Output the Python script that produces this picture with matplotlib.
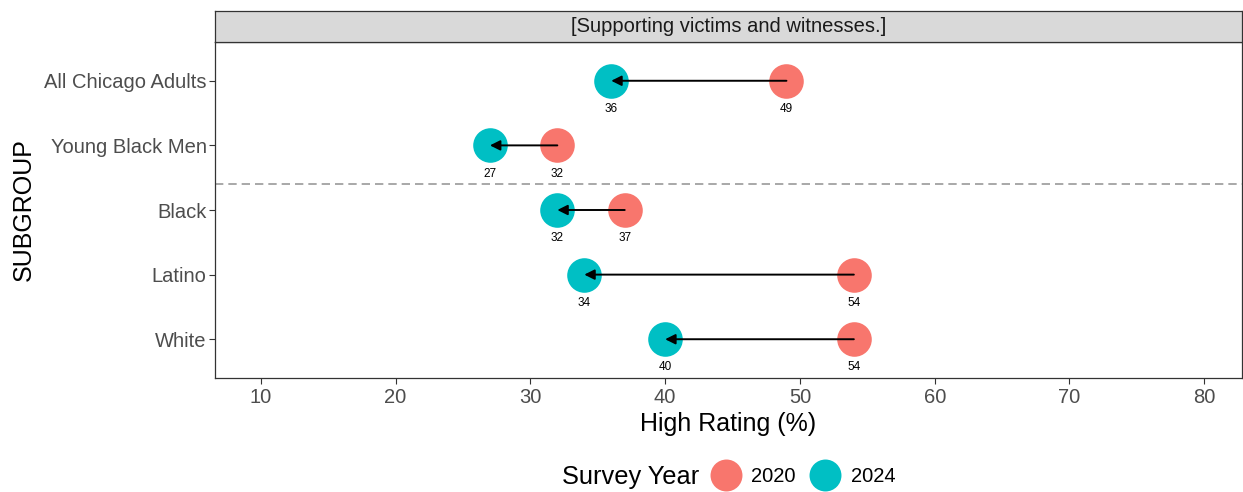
import matplotlib.pyplot as plt
from matplotlib.lines import Line2D

# data
subgroups = ['All Chicago Adults', 'Young Black Men', 'Black', 'Latino', 'White']
rating_2020 = [49, 32, 37, 54, 54]
rating_2024 = [36, 27, 32, 34, 40]
panel_title = '[Supporting victims and witnesses.]'
xticks = [10, 20, 30, 40, 50, 60, 70, 80]

c2020 = '#F8766D'
c2024 = '#00BFC4'

W, H = 1243, 492
fig = plt.figure(figsize=(W / 100, H / 100), dpi=100)
plt.rcParams['font.family'] = ['Liberation Sans', 'DejaVu Sans']

ax = fig.add_axes([215 / W, (H - 378) / H, 1027 / W, 336 / H])
strip = fig.add_axes([215 / W, (H - 42) / H, 1027 / W, 31 / H])

ypos = list(range(len(subgroups), 0, -1))

for y, a, b in zip(ypos, rating_2020, rating_2024):
    ax.annotate('', xy=(b, y), xytext=(a, y),
                arrowprops=dict(arrowstyle='-|>,head_length=0.6,head_width=0.3',
                                color='black', lw=1.4, shrinkA=0, shrinkB=0),
                zorder=3)
ax.scatter(rating_2020, ypos, s=620, color=c2020, zorder=2, linewidths=0)
ax.scatter(rating_2024, ypos, s=620, color=c2024, zorder=2, linewidths=0)
for y, a, b in zip(ypos, rating_2020, rating_2024):
    ax.annotate(str(a), (a, y), xytext=(0, -16), textcoords='offset points',
                ha='center', va='top', fontsize=8.5, color='black')
    ax.annotate(str(b), (b, y), xytext=(0, -16), textcoords='offset points',
                ha='center', va='top', fontsize=8.5, color='black')

ax.axhline(3.41, color='#999999', lw=1.2, ls=(0, (5, 3)))

ax.set_xlim(6.6, 82.8)
ax.set_ylim(0.4, 5.6)
ax.set_xticks(xticks)
ax.set_yticks(ypos)
ax.set_yticklabels(subgroups)
ax.tick_params(axis='both', labelsize=14.5, colors='#4D4D4D', length=4, width=0.8, color='#333333')
ax.tick_params(axis='y', pad=2)
for sp in ax.spines.values():
    sp.set_color('#333333')
    sp.set_linewidth(0.9)
ax.set_xlabel('High Rating (%)', fontsize=18, labelpad=3)
ax.set_ylabel('SUBGROUP', fontsize=18, labelpad=6)

strip.set_facecolor('#D9D9D9')
strip.set_xticks([])
strip.set_yticks([])
for sp in strip.spines.values():
    sp.set_color('#333333')
    sp.set_linewidth(0.9)
strip.text(0.5, 0.5, panel_title, ha='center', va='center', fontsize=14.5,
           color='#1A1A1A', transform=strip.transAxes)

handles = [Line2D([], [], ls='', marker='o', ms=23, color=c2020, mec='none'),
           Line2D([], [], ls='', marker='o', ms=23, color=c2024, mec='none')]
fig.legend(handles, ['2020', '2024'], loc='center left', bbox_to_anchor=(710 / W, 1 - 477 / H),
           ncol=2, frameon=False, fontsize=14.5, handlelength=1.6, handletextpad=0.46,
           columnspacing=0.65, borderpad=0, borderaxespad=0)
fig.text(699 / W, 1 - 477 / H, 'Survey Year', ha='right', va='center', fontsize=18.3)

fig.savefig('out.png', dpi=100)
